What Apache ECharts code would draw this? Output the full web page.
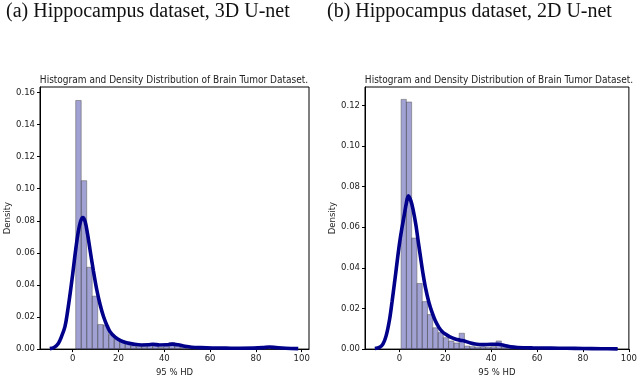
<!DOCTYPE html>
<html>
<head>
    <meta charset="UTF-8">
    <title>Hippocampus 95% HD</title>
    <style>
        *{margin:0;padding:0;}
        body{background:#fff;}
        .container{width:640px;height:382px;}
    </style>
    <script src="https://cdn.jsdelivr.net/npm/echarts@6/dist/echarts.min.js"></script>
</head>
<body>
<div class="container"></div>
<script>
    // histogram bins (density)
    const binStartA = 1.3, binWidthA = 2.4
    const histA = [0.155, 0.105, 0.051, 0.033, 0.0153, 0.015, 0.009, 0.006, 0.005, 0.004,
        0.002, 0.0015, 0.0015, 0.003, 0.002, 0.001, 0.0015, 0.004, 0.002, 0.001,
        0.0005, 0.0005, 0.0005, 0.0005, 0.0003, 0.0003, 0.0003, 0.0003, 0.0003, 0.0003,
        0.0003, 0.0003, 0.0005, 0.0005, 0.0005, 0.0015, 0.0005, 0.0003, 0.0003, 0.0003]
    const binStartB = 0.73, binWidthB = 2.3
    const histB = [0.123, 0.1217, 0.0547, 0.0323, 0.0234, 0.017, 0.0105, 0.0081, 0.0056, 0.004,
        0.003, 0.0078, 0.0015, 0.0012, 0.001, 0.001, 0.001, 0.0012, 0.004, 0.001,
        0.0008, 0.0006, 0.0006, 0.0006, 0.0006, 0.0006, 0.0006, 0.0006, 0.0006, 0.0006,
        0.0006, 0.0003, 0.0003, 0.0003, 0.0003, 0.0005, 0.0003, 0.0003, 0.0003, 0.0003, 0.0003]

    // density curves [x, y]
    const kdeA = [[-10,0.0003],[-8,0.0012],[-6.3,0.0035],[-5,0.0075],[-3.4,0.0140],[-2.2,0.024],[-1.1,0.035],
        [0,0.047],[1.2,0.061],[2.4,0.073],[3.4,0.0795],[4.4,0.082],[5.4,0.0795],[6.5,0.0715],[7.6,0.0615],
        [9,0.049],[10.5,0.037],[12,0.0275],[13.4,0.0205],[15,0.0145],[16.3,0.0108],[18.5,0.0074],
        [20.7,0.0054],[23.5,0.0039],[26.5,0.0031],[30,0.0026],[33,0.0027],[35,0.003],[38,0.0026],
        [41,0.0027],[43.5,0.0031],[46,0.0027],[49,0.0018],[52,0.0012],[56,0.0009],[61,0.0007],
        [67,0.0006],[73,0.0005],[79,0.0006],[83,0.0009],[86,0.0013],[89,0.0009],[93,0.0005],[98.5,0.0003]]
    const kdeB = [[-10.7,0.0003],[-8.5,0.001],[-7.2,0.0024],[-5.8,0.0065],[-4.3,0.0146],[-3.2,0.0235],
        [-2.1,0.033],[-1,0.043],[0,0.0518],[1,0.059],[2.1,0.066],[3,0.0718],[3.9,0.0755],[5,0.073],
        [6,0.0685],[7.2,0.061],[8.2,0.053],[9.3,0.0445],[10.3,0.037],[11.4,0.03],[12.8,0.0232],
        [14.3,0.0178],[15.7,0.0138],[17.2,0.0107],[18.6,0.0087],[20,0.0074],[22,0.006],[24.3,0.005],
        [26.5,0.0044],[28.6,0.0039],[31,0.003],[33,0.0025],[36,0.0022],[40,0.0024],[43,0.0024],
        [45.8,0.0018],[48.5,0.0011],[51.5,0.0008],[58,0.0006],[66,0.0005],[73,0.0004],[80,0.0003],
        [88,0.0002],[95.1,0.0001]]

    const xTicks = [0, 20, 40, 60, 80, 100]
    const yTicksA = [0, 0.02, 0.04, 0.06, 0.08, 0.10, 0.12, 0.14, 0.16]
    const yTicksB = [0, 0.02, 0.04, 0.06, 0.08, 0.10, 0.12]

    const panelTitles = ['(a) Hippocampus dataset, 3D U-net', '(b) Hippocampus dataset, 2D U-net']
    const plotTitle = 'Histogram and Density Distribution of Brain Tumor Dataset.'

    const bins = (start, w, h) => h.map((v, i) => [start + i * w, start + (i + 1) * w, v])

    let chart = echarts.init(document.querySelector('.container'))
    const font = 'DejaVu Sans'
    const lbl = {fontFamily: font, fontSize: 8.5, color: '#222'}

    function xAxis(idx, min, max){
        return {
            type: 'value', gridIndex: idx, min, max,
            name: '95 % HD', nameLocation: 'middle', nameGap: 18,
            nameTextStyle: {fontFamily: font, fontSize: 8.5, color: '#222'},
            axisLine: {show: true, onZero: false, lineStyle: {color: '#000', width: 1}},
            axisTick: {show: true, length: 3, customValues: xTicks, lineStyle: {color: '#000'}},
            axisLabel: Object.assign({customValues: xTicks, margin: 5}, lbl),
            splitLine: {show: false}
        }
    }
    function yAxis(idx, max, ticks){
        return {
            type: 'value', gridIndex: idx, min: 0, max,
            name: 'Density', nameLocation: 'middle', nameGap: 27,
            nameTextStyle: {fontFamily: font, fontSize: 8.5, color: '#222'},
            axisLine: {show: true, onZero: false, lineStyle: {color: '#000', width: 1}},
            axisTick: {show: true, length: 3, customValues: ticks, lineStyle: {color: '#000'}},
            axisLabel: Object.assign({customValues: ticks, margin: 5, formatter: v => v.toFixed(2)}, lbl),
            splitLine: {show: false}
        }
    }

    const histSeries = (idx, data) => ({
        type: 'custom', xAxisIndex: idx, yAxisIndex: idx, data,
        renderItem: function(params, api){
            let p0 = api.coord([api.value(0), api.value(2)])
            let p1 = api.coord([api.value(1), 0])
            return {
                type: 'rect',
                shape: {x: p0[0], y: p0[1], width: p1[0] - p0[0], height: p1[1] - p0[1]},
                style: {fill: 'rgba(0,0,139,0.37)', stroke: 'rgba(90,90,90,0.75)', lineWidth: 0.7}
            }
        }
    })
    const kdeSeries = (idx, data) => ({
        type: 'line', xAxisIndex: idx, yAxisIndex: idx, data,
        smooth: 0.35, symbol: 'none',
        lineStyle: {color: '#00008b', width: 3.6}
    })

    let option = {
        backgroundColor: '#fff',
        animation: false,
        title: [
            {text: panelTitles[0], left: 1, top: -3, textStyle: {fontFamily: 'Liberation Serif', fontSize: 20, fontWeight: 'normal', color: '#111'}},
            {text: panelTitles[1], left: 322, top: -3, textStyle: {fontFamily: 'Liberation Serif', fontSize: 20, fontWeight: 'normal', color: '#111'}},
            {text: plotTitle, left: 169, top: 70, textAlign: 'center', textStyle: {fontFamily: 'DejaVu Sans Condensed', fontSize: 10, fontWeight: 'normal', color: '#222'}},
            {text: plotTitle, left: 494, top: 70, textAlign: 'center', textStyle: {fontFamily: 'DejaVu Sans Condensed', fontSize: 10, fontWeight: 'normal', color: '#222'}}
        ],
        grid: [
            {left: 40, top: 87, right: 331, bottom: 29, show: true, borderColor: '#000', borderWidth: 1, containLabel: false},
            {left: 365, top: 87, right: 7, bottom: 29, show: true, borderColor: '#000', borderWidth: 1, containLabel: false}
        ],
        xAxis: [xAxis(0, -14.3, 103.2), xAxis(1, -15, 100)],
        yAxis: [yAxis(0, 0.1634, yTicksA), yAxis(1, 0.1291, yTicksB)],
        series: [
            histSeries(0, bins(binStartA, binWidthA, histA)),
            kdeSeries(0, kdeA),
            histSeries(1, bins(binStartB, binWidthB, histB)),
            kdeSeries(1, kdeB)
        ]
    }
    chart.setOption(option)
</script>
</body>
</html>
